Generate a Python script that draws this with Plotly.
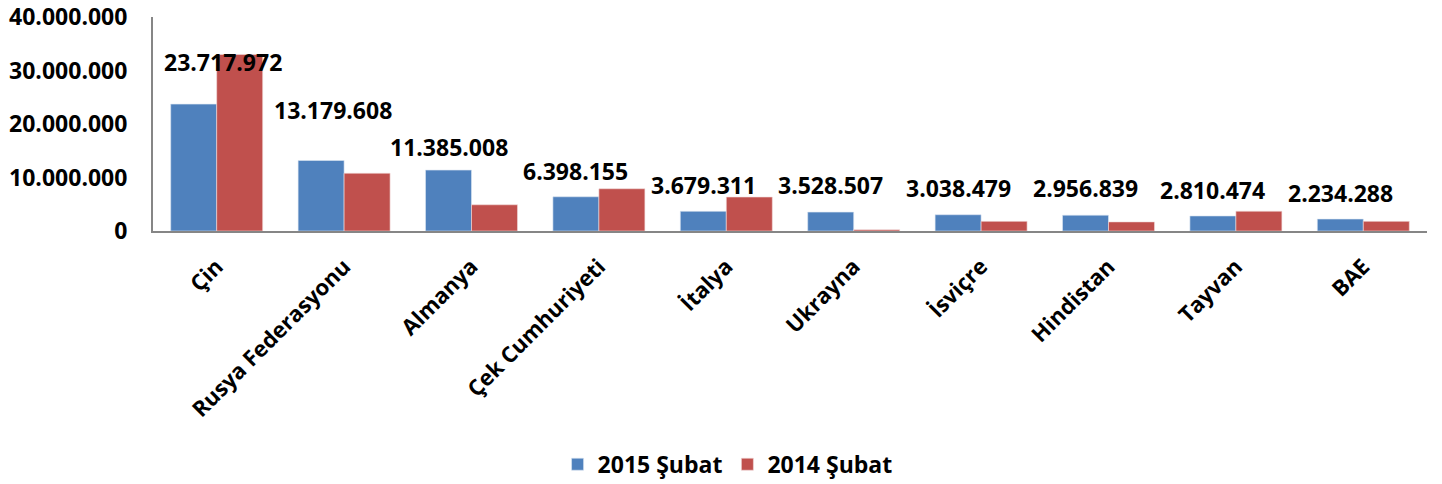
import plotly.graph_objects as go

countries = ["Çin", "Rusya Federasyonu", "Almanya", "Çek Cumhuriyeti", "İtalya",
             "Ukrayna", "İsviçre", "Hindistan", "Tayvan", "BAE"]
feb_2015 = [23717972, 13179608, 11385008, 6398155, 3679311,
            3528507, 3038479, 2956839, 2810474, 2234288]
feb_2014 = [33000000, 10800000, 4900000, 7900000, 6350000,
            250000, 1800000, 1700000, 3700000, 1800000]
series_names = ["2015 Şubat", "2014 Şubat"]
label_texts = ["23.717.972", "13.179.608", "11.385.008", "6.398.155", "3.679.311",
               "3.528.507", "3.038.479", "2.956.839", "2.810.474", "2.234.288"]
# heights (data units) at which the data labels were placed in the original
label_heights = [31600000, 22600000, 15700000, 11200000, 8600000,
                 8600000, 8000000, 8000000, 7700000, 7100000]
label_xshift = [6, -11, -23, -23, -23, -23, -23, -23, -23, -23]

FONT = "Open Sans"

fig = go.Figure()
fig.add_trace(go.Bar(x=countries, y=feb_2015, name=series_names[0],
                     marker=dict(color="#4F81BD", line=dict(color="#DCE6F2", width=0.6)),
                     hoverinfo="x+y"))
fig.add_trace(go.Bar(x=countries, y=feb_2014, name=series_names[1],
                     marker=dict(color="#C0504D", line=dict(color="#F2DCDB", width=0.6)),
                     hoverinfo="x+y"))

for c, t, h, dx in zip(countries, label_texts, label_heights, label_xshift):
    fig.add_annotation(x=c, y=h, text=t, showarrow=False, xshift=dx,
                       font=dict(family=FONT, size=23, color="black", weight="bold"))

fig.update_layout(
    width=1442, height=484,
    margin=dict(l=153, r=15, t=17, b=253, autoexpand=False),
    paper_bgcolor="white", plot_bgcolor="white",
    barmode="group", bargap=0.278, bargroupgap=0,
    separators=",.",
    font=dict(family=FONT, color="black"),
    showlegend=True,
    legend=dict(orientation="h", x=0.451, xanchor="center", y=-1.09, yanchor="middle",
                font=dict(family=FONT, size=23, color="black", weight="bold"),
                itemwidth=30, traceorder="normal"),
    xaxis=dict(showline=True, linecolor="#868686", linewidth=2, ticks="",
               tickangle=-45, showgrid=False, automargin=False, ticklabelstandoff=12,
               tickfont=dict(family=FONT, size=22, color="black", weight="bold")),
    yaxis=dict(range=[0, 40000000], dtick=10000000, tickformat=",d",
               showline=True, linecolor="#868686", linewidth=2, ticks="",
               showgrid=False, zeroline=False, ticklabelstandoff=19, automargin=False,
               tickfont=dict(family=FONT, size=23, color="black", weight="bold")),
)

fig.write_html("out.html", config={"displayModeBar": False},
               post_script="document.body.style.margin='0';document.body.style.overflow='hidden';")
